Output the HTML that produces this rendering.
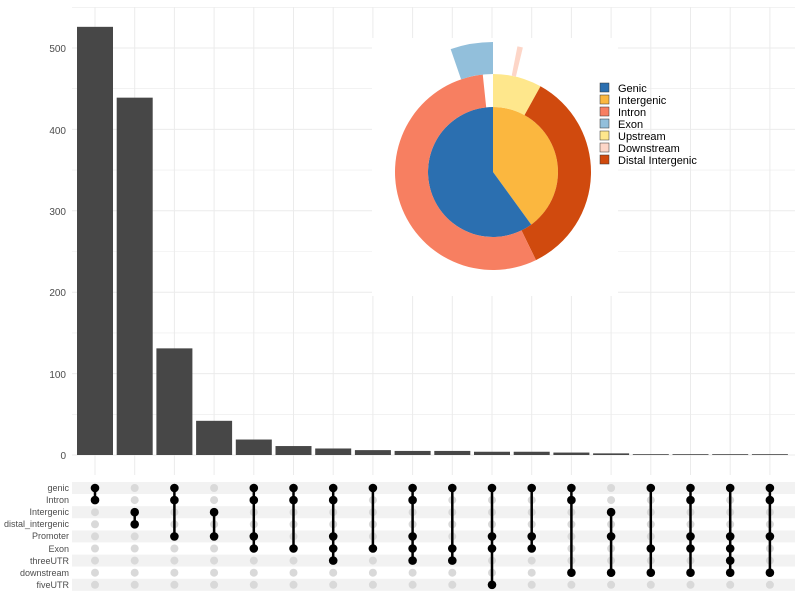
<!DOCTYPE html>
<html><head><meta charset="utf-8"><style>
body{margin:0;background:#fff;}
svg{display:block;font-family:"Liberation Sans",sans-serif;}
</style></head><body>
<svg id="s" width="800" height="600" viewBox="0 0 800 600" xmlns="http://www.w3.org/2000/svg">
<rect width="800" height="600" fill="#fff"/>
<g id="grid"></g>
<g id="bars"></g>
<g font-size="10" fill="#4d4d4d" text-anchor="end">
<text x="66" y="459">0</text>
<text x="66" y="378">100</text>
<text x="66" y="296">200</text>
<text x="66" y="215">300</text>
<text x="66" y="134">400</text>
<text x="66" y="52">500</text>
</g>
<g id="stripes"></g>
<g font-size="9" fill="#4d4d4d" text-anchor="end">
<text x="69" y="491">genic</text>
<text x="69" y="503">Intron</text>
<text x="69" y="515">Intergenic</text>
<text x="69" y="527">distal_intergenic</text>
<text x="69" y="539">Promoter</text>
<text x="69" y="552">Exon</text>
<text x="69" y="564">threeUTR</text>
<text x="69" y="576">downstream</text>
<text x="69" y="588">fiveUTR</text>
</g>
<g id="dots"></g>
<rect x="372" y="38" width="246" height="258" fill="#fff"/>
<g id="pie"></g>
<g font-size="11" fill="#000">
<rect x="600" y="83" width="9" height="9" fill="#2b6fb0" stroke="#333" stroke-width="0.5"/><text x="618" y="92">Genic</text>
<rect x="600" y="95" width="9" height="9" fill="#fbb73f" stroke="#333" stroke-width="0.5"/><text x="618" y="104">Intergenic</text>
<rect x="600" y="107" width="9" height="9" fill="#f77f61" stroke="#333" stroke-width="0.5"/><text x="618" y="116">Intron</text>
<rect x="600" y="119" width="9" height="9" fill="#92bfdb" stroke="#333" stroke-width="0.5"/><text x="618" y="128">Exon</text>
<rect x="600" y="131" width="9" height="9" fill="#fee78c" stroke="#333" stroke-width="0.5"/><text x="618" y="140">Upstream</text>
<rect x="600" y="143" width="9" height="9" fill="#fdd6c8" stroke="#333" stroke-width="0.5"/><text x="618" y="152">Downstream</text>
<rect x="600" y="155" width="9" height="9" fill="#d04a0e" stroke="#333" stroke-width="0.5"/><text x="618" y="164">Distal Intergenic</text>
</g>
</svg>
<script>
var NS="http://www.w3.org/2000/svg";
function el(p,t,a){var e=document.createElementNS(NS,t);for(var k in a)e.setAttribute(k,a[k]);document.getElementById(p).appendChild(e);return e;}
var xs=[],i;for(i=0;i<18;i++)xs.push(95+i*39.7);
var y0=455,k=0.814;
for(var v=0;v<=550;v+=50){var y=y0-v*k;el("grid","line",{x1:72,x2:795,y1:y,y2:y,stroke:"#ebebeb","stroke-width":v%100?0.6:1});}
xs.forEach(function(x){el("grid","line",{x1:x,x2:x,y1:7,y2:475,stroke:"#ebebeb","stroke-width":1});});
var vals=[526,439,131,42,19,11,8,6,5,5,4,4,3,2,1,1,1,1];
vals.forEach(function(v,i){el("bars","rect",{x:xs[i]-18,y:y0-v*k,width:36,height:v*k,fill:"#474747"});});
var rows=[];for(i=0;i<9;i++)rows.push(488+i*12.1);
[0,2,4,6,8].forEach(function(r){el("stripes","rect",{x:72,y:rows[r]-6,width:723,height:12,fill:"#f2f2f2"});});
var sets=[[0,1],[2,3],[0,1,4],[2,4],[0,1,4,5],[0,1,5],[0,1,4,5,6],[0,5],[0,1,4,5,6],[0,5,6],[0,4,5,8],[0,4,5],[0,1,7],[2,4,7],[0,5,7],[0,1,4,5,7],[0,4,5,6,7],[0,1,4,7]];
xs.forEach(function(x,c){
 for(var r=0;r<9;r++)el("dots","circle",{cx:x,cy:rows[r],r:4,fill:"#d9d9d9"});
 var s=sets[c];el("dots","line",{x1:x,x2:x,y1:rows[s[0]],y2:rows[s[s.length-1]],stroke:"#000","stroke-width":2.5});
 s.forEach(function(r){el("dots","circle",{cx:x,cy:rows[r],r:4.3,fill:"#000"});});
});
var cx=493,cy=172;
function pt(a,r){var t=a*Math.PI/180;return [cx+r*Math.sin(t),cy-r*Math.cos(t)];}
function seg(a0,a1,r0,r1,f){var p=[pt(a0,r1),pt(a1,r1),pt(a1,r0),pt(a0,r0)],lg=(a1-a0)>180?1:0;
 var d="M"+p[0]+" A"+r1+","+r1+" 0 "+lg+" 1 "+p[1]+" L"+p[2]+(r0>0?" A"+r0+","+r0+" 0 "+lg+" 0 "+p[3]:"")+" Z";
 el("pie","path",{d:d,fill:f});}
seg(0,144,0,65,"#fbb73f");seg(144,360,0,65,"#2b6fb0");
seg(0,29,65,98,"#fee78c");seg(29,154,65,98,"#d04a0e");seg(154,354,65,98,"#f77f61");
seg(341,360,98,130,"#92bfdb");seg(11,13.5,98,128,"#fdd6c8");
</script>
</body></html>
